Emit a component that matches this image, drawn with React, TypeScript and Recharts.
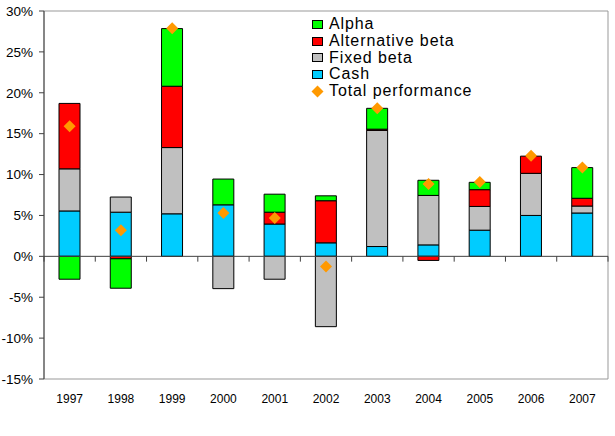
import React from 'react';
import {
  ComposedChart,
  Bar,
  Scatter,
  XAxis,
  YAxis,
  ReferenceLine,
  ReferenceArea,
  Legend,
} from 'recharts';

const years = ['1997', '1998', '1999', '2000', '2001', '2002', '2003', '2004', '2005', '2006', '2007'];
const cash = [5.55, 5.4, 5.2, 6.3, 3.95, 1.65, 1.2, 1.4, 3.2, 5.0, 5.3];
const fixedBeta = [5.15, 1.85, 8.1, -3.95, -2.8, -8.6, 14.2, 6.05, 2.9, 5.15, 0.85];
const altBeta = [8.0, -0.3, 7.5, 0, 1.45, 5.15, 0.15, -0.5, 2.05, 2.1, 0.95];
const alpha = [-2.8, -3.6, 7.05, 3.15, 2.2, 0.6, 2.55, 1.85, 0.9, 0, 3.75];
const total = [15.9, 3.2, 27.9, 5.3, 4.7, -1.25, 18.1, 8.85, 9.1, 12.3, 10.85];

const yTicks = [-15, -10, -5, 0, 5, 10, 15, 20, 25, 30];
const boundaries = [0, 1, 2, 3, 4, 5, 6, 7, 8, 9, 10, 11];

const COLORS = {
  alpha: '#00FF00',
  alt: '#FF0000',
  fixed: '#C0C0C0',
  cash: '#00CCFF',
  total: '#FF9900',
};

const legendItems = [
  { name: 'Alpha', color: COLORS.alpha, type: 'square' },
  { name: 'Alternative beta', color: COLORS.alt, type: 'square' },
  { name: 'Fixed beta', color: COLORS.fixed, type: 'square' },
  { name: 'Cash', color: COLORS.cash, type: 'square' },
  { name: 'Total performance', color: COLORS.total, type: 'diamond' },
];

const data = years.map((y, i) => ({
  year: y,
  idx: i,
  cash: cash[i],
  fixed: fixedBeta[i],
  alt: altBeta[i],
  alpha: alpha[i],
  total: total[i],
}));

const font = '"Liberation Sans", Arial, sans-serif';

const LegendContent = () => (
  <div style={{ fontFamily: font, fontSize: 16, letterSpacing: 0.9, color: '#000', lineHeight: '17px' }}>
    {legendItems.map((it) => (
      <div key={it.name} style={{ display: 'flex', alignItems: 'center', height: 16.8, whiteSpace: 'nowrap', lineHeight: '16.8px' }}>
        {it.type === 'square' ? (
          <div
            style={{
              width: 11,
              height: 9,
              background: it.color,
              border: '1px solid #000',
              marginRight: 6,
              boxSizing: 'border-box',
              flex: 'none',
            }}
          />
        ) : (
          <svg width={13} height={13} style={{ marginRight: 5, marginLeft: -1, flex: 'none' }}>
            <polygon points="6.5,0.5 12.5,6.5 6.5,12.5 0.5,6.5" fill={it.color} />
          </svg>
        )}
        <span style={{ lineHeight: '16.8px', height: 16.8, display: 'inline-block' }}>{it.name}</span>
      </div>
    ))}
  </div>
);

const Diamond = (props: any) => {
  const { cx, cy } = props;
  if (cx == null || cy == null) return null;
  const r = 6;
  return (
    <polygon
      points={`${cx},${cy - r} ${cx + r},${cy} ${cx},${cy + r} ${cx - r},${cy}`}
      fill={COLORS.total}
    />
  );
};

export default function App() {
  return (
    <div style={{ position: 'absolute', left: 0, top: 0, background: '#fff' }}>
      <ComposedChart
        width={615}
        height={436}
        data={data}
        stackOffset="sign"
        margin={{ top: 11, right: 7, left: 0, bottom: 27 }}
      >
        <ReferenceArea y1={-15} y2={30} fill="none" stroke="#999" strokeWidth={1} ifOverflow="visible" />
        <XAxis
          dataKey="year"
          axisLine={false}
          tickLine={false}
          tickMargin={9}
          height={30}
          interval={0}
          tick={{ fontSize: 12, fill: '#000', fontFamily: font }}
        />
        <XAxis xAxisId="n" type="number" dataKey="idx" domain={[0, 11]} allowDataOverflow hide />
        <YAxis
          width={44}
          domain={[-15, 30]}
          ticks={yTicks}
          interval={0}
          allowDataOverflow
          tickFormatter={(v: number) => `${v}%`}
          axisLine={{ stroke: '#404040' }}
          tickLine={{ stroke: '#404040' }}
          tickSize={5}
          tickMargin={6}
          tick={{ fontSize: 13.5, fill: '#000', fontFamily: font }}
        />
        <Bar dataKey="cash" stackId="a" fill={COLORS.cash} stroke="#000" strokeWidth={1} barSize={21} isAnimationActive={false} />
        <Bar dataKey="fixed" stackId="a" fill={COLORS.fixed} stroke="#000" strokeWidth={1} barSize={21} isAnimationActive={false} />
        <Bar dataKey="alt" stackId="a" fill={COLORS.alt} stroke="#000" strokeWidth={1} barSize={21} isAnimationActive={false} />
        <Bar dataKey="alpha" stackId="a" fill={COLORS.alpha} stroke="#000" strokeWidth={1} barSize={21} isAnimationActive={false} />
        <ReferenceLine y={0} stroke="#404040" strokeWidth={1} />
        {boundaries.map((b) => (
          <ReferenceLine
            key={b}
            xAxisId="n"
            segment={[{ x: b, y: 0 }, { x: b, y: -0.65 }]}
            stroke="#404040"
            ifOverflow="visible"
          />
        ))}
        <Scatter dataKey="total" shape={<Diamond />} isAnimationActive={false} />
        <Legend
          layout="horizontal"
          verticalAlign="middle"
          align="center"
          content={<LegendContent />}
          wrapperStyle={{ left: 312, top: 16, width: 200, height: 90 }}
        />
      </ComposedChart>
    </div>
  );
}
